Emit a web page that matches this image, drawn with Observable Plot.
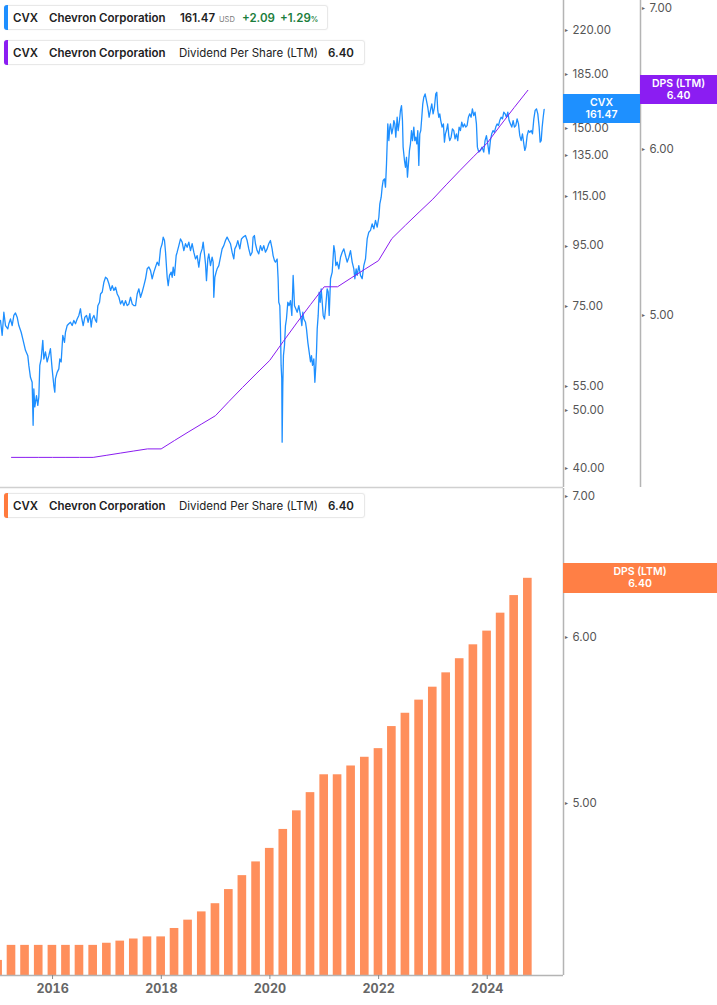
<!DOCTYPE html>
<html>
<head>
<meta charset="utf-8">
<script src="https://cdn.jsdelivr.net/npm/d3@7"></script>
<script src="https://cdn.jsdelivr.net/npm/@observablehq/plot@0.6"></script>
<style>
  html, body { margin:0; padding:0; background:#fff; }
  #wrap { position:relative; width:717px; height:1005px; overflow:hidden; font-family: Inter, "Noto Sans", sans-serif; }
  #wrap svg { position:absolute; left:0; }
  .leg { position:absolute; left:4px; height:25px; background:#fff; border:1px solid #e8e8e8; border-radius:3px;
         box-shadow:0 0 2px rgba(0,0,0,0.06); font-size:11.5px; color:#222; box-sizing:border-box; }
  .leg .acc { position:absolute; left:-1px; top:-1px; bottom:-1px; width:4px; border-radius:3px 0 0 3px; }
  .leg span { position:absolute; top:0; line-height:24px; white-space:nowrap; }
  .b { font-weight:600; }
  .tag { position:absolute; color:#fff; font-weight:600; font-size:10.5px; text-align:center; line-height:12px;
         display:flex; flex-direction:column; justify-content:center; }
</style>
</head>
<body>
<div id="wrap"></div>
<script>
// ---------- data ----------
const priceYear = [
2015.041,2015.072,2015.103,2015.133,2015.176,2015.195,2015.225,2015.256,2015.287,2015.317,2015.348,2015.379,2015.422,2015.458,2015.501,2015.544,2015.563,2015.593,2015.624,2015.642,2015.655,2015.673,2015.704,2015.728,2015.747,2015.765,2015.790,2015.820,2015.839,2015.869,2015.900,2015.931,2015.961,2015.992,
2016.023,2016.041,2016.053,2016.084,2016.115,2016.133,2016.158,2016.188,2016.219,2016.237,2016.268,2016.299,2016.329,2016.360,2016.391,2016.421,2016.452,2016.483,2016.513,2016.532,2016.562,2016.593,2016.624,2016.654,2016.685,2016.710,2016.728,2016.759,2016.789,2016.808,2016.832,2016.863,2016.881,2016.912,2016.943,2016.973,
2017.004,2017.035,2017.066,2017.096,2017.127,2017.158,2017.188,2017.219,2017.249,2017.280,2017.311,2017.341,2017.372,2017.403,2017.433,2017.464,2017.495,2017.526,2017.556,2017.587,2017.618,2017.648,2017.679,2017.710,2017.740,2017.771,2017.802,2017.832,2017.863,2017.894,2017.924,2017.955,2017.986,
2018.016,2018.035,2018.059,2018.078,2018.108,2018.127,2018.151,2018.182,2018.200,2018.219,2018.243,2018.274,2018.292,2018.323,2018.354,2018.384,2018.415,2018.446,2018.476,2018.507,2018.538,2018.568,2018.599,2018.630,2018.660,2018.691,2018.722,2018.752,2018.771,2018.795,2018.814,2018.832,2018.857,2018.875,2018.906,2018.936,2018.955,2018.967,2018.986,
2019.010,2019.028,2019.059,2019.090,2019.120,2019.151,2019.182,2019.212,2019.243,2019.274,2019.304,2019.335,2019.354,2019.384,2019.409,2019.446,2019.476,2019.507,2019.550,2019.581,2019.611,2019.642,2019.673,2019.691,2019.715,2019.734,2019.764,2019.795,2019.826,2019.857,2019.887,2019.918,2019.949,2019.979,
2020.010,2020.041,2020.059,2020.084,2020.102,2020.133,2020.151,2020.163,2020.182,2020.194,2020.206,2020.218,2020.225,2020.237,2020.249,2020.268,2020.286,2020.304,2020.329,2020.353,2020.378,2020.403,2020.427,2020.452,2020.476,2020.501,2020.531,2020.562,2020.587,2020.605,2020.623,2020.654,2020.672,2020.697,2020.721,2020.746,2020.764,2020.783,2020.807,2020.826,2020.844,2020.856,2020.869,2020.887,2020.905,2020.924,2020.942,2020.961,2020.979,
2021.003,2021.022,2021.052,2021.071,2021.089,2021.114,2021.145,2021.175,2021.194,2021.212,2021.237,2021.267,2021.298,2021.329,2021.359,2021.390,2021.421,2021.451,2021.482,2021.513,2021.543,2021.562,2021.586,2021.605,2021.635,2021.666,2021.697,2021.727,2021.758,2021.789,2021.819,2021.850,2021.881,2021.912,2021.942,2021.973,
2022.004,2022.022,2022.047,2022.065,2022.083,2022.108,2022.126,2022.145,2022.169,2022.188,2022.206,2022.218,2022.243,2022.267,2022.280,2022.298,2022.316,2022.341,2022.359,2022.384,2022.402,2022.421,2022.439,2022.451,2022.476,2022.494,2022.513,2022.531,2022.549,2022.568,2022.586,2022.605,2022.623,2022.648,2022.666,2022.684,2022.703,2022.721,2022.740,2022.758,2022.776,2022.795,2022.813,2022.832,2022.856,2022.881,2022.905,2022.930,2022.954,2022.979,
2023.003,2023.028,2023.052,2023.071,2023.089,2023.108,2023.126,2023.144,2023.169,2023.193,2023.212,2023.230,2023.249,2023.273,2023.292,2023.310,2023.335,2023.359,2023.384,2023.408,2023.433,2023.457,2023.482,2023.506,2023.531,2023.555,2023.580,2023.604,2023.629,2023.653,2023.678,2023.703,2023.727,2023.752,2023.776,2023.801,2023.819,2023.844,2023.874,2023.905,2023.936,2023.960,2023.985,
2024.009,2024.034,2024.058,2024.083,2024.108,2024.132,2024.157,2024.181,2024.206,2024.230,2024.255,2024.280,2024.304,2024.329,2024.353,2024.378,2024.402,2024.427,2024.451,2024.476,2024.500,2024.525,2024.549,2024.574,2024.598,2024.623,2024.647,2024.672,2024.690,2024.709,2024.733,2024.758,2024.782,2024.807,2024.831,2024.856,2024.880,2024.905,2024.929,2024.954,2024.972,2024.991,
2025.009,2025.028,2025.046
];
const priceClose = [
71.0,67.0,73.3,69.6,68.7,70.1,71.4,69.6,72.4,73.1,71.9,69.6,67.8,65.7,63.2,61.9,59.6,56.9,55.8,47.2,54.4,50.7,53.0,51.0,52.7,59.6,61.1,65.7,61.1,62.8,60.4,61.9,63.6,58.8,
55.1,53.7,56.6,58.0,58.8,61.1,60.4,67.0,65.2,67.8,69.6,70.1,70.5,69.6,71.0,70.1,71.4,72.4,74.3,71.9,69.6,71.9,72.4,70.5,72.9,69.2,71.4,72.4,71.0,70.5,75.2,76.2,78.7,79.3,82.4,84.0,
83.5,81.9,79.8,81.3,79.8,80.8,78.7,77.7,75.7,76.7,75.2,76.7,75.2,75.7,77.7,75.7,75.2,75.2,78.7,80.3,77.7,79.3,81.3,83.5,86.8,87.4,86.2,83.5,85.7,87.4,89.1,87.9,93.8,
95.7,98.2,96.9,92.6,84.0,81.3,84.6,85.7,84.0,87.4,84.6,91.4,92.6,95.0,97.5,96.3,93.2,95.7,94.4,96.3,93.2,95.7,92.6,90.2,91.4,87.4,92.0,93.8,96.3,92.0,88.5,82.9,90.2,92.0,87.9,90.8,89.1,77.7,84.0,
85.7,86.8,87.9,90.8,93.8,95.0,96.9,98.2,96.9,95.7,92.6,90.2,93.8,95.0,96.9,93.8,97.5,98.2,98.8,96.9,93.8,91.4,92.6,98.2,98.8,95.7,93.2,92.0,95.0,93.2,95.0,92.6,93.8,95.7,
96.9,93.8,91.4,89.6,89.1,90.2,83.5,76.2,75.2,68.7,59.6,56.6,44.2,55.1,61.9,64.4,69.6,71.4,76.2,75.2,76.7,72.4,84.6,75.2,74.3,73.3,75.2,72.4,69.6,73.3,71.4,70.5,68.7,65.2,62.8,60.4,61.9,59.6,61.1,55.8,59.6,62.8,68.7,72.4,79.3,76.2,80.3,76.2,72.4,
71.4,74.3,80.3,79.3,72.4,83.5,85.7,95.0,92.6,87.9,89.1,86.8,90.8,92.6,93.8,91.4,89.1,90.8,93.2,89.1,86.8,83.5,86.8,84.6,87.9,84.6,83.5,87.9,90.2,97.5,100.1,100.8,103.4,101.4,104.8,102.1,
106.1,111.8,114.7,119.3,122.4,123.2,119.3,130.6,152.6,143.0,150.7,152.6,146.8,150.7,154.6,152.6,144.9,156.6,148.7,154.6,160.8,163.9,154.6,139.4,132.3,128.9,134.0,124.0,130.6,137.6,141.2,148.7,143.0,150.7,143.0,144.9,141.2,148.7,129.8,146.8,148.7,156.6,165.0,169.3,171.5,167.1,162.8,156.6,160.8,165.0,
158.7,162.8,171.5,172.6,160.8,156.6,158.7,154.6,150.7,152.6,142.1,146.8,148.7,152.6,145.8,143.0,144.9,149.7,148.7,144.0,146.8,143.0,150.7,148.7,153.6,150.7,152.6,150.7,151.6,156.6,158.7,156.6,161.8,157.6,159.7,152.6,139.4,136.7,137.6,139.4,136.7,143.0,145.8,
141.2,135.8,143.0,146.8,148.7,147.7,150.7,152.6,151.6,154.6,156.6,155.6,159.7,158.7,156.6,159.7,154.6,152.6,150.7,154.6,150.7,151.6,155.6,152.6,145.8,143.0,146.8,141.2,137.6,139.4,145.8,148.7,147.7,148.7,146.8,155.6,160.8,161.8,158.7,150.7,142.1,143.0,
150.7,156.6,161.47
];
const dpsDates = [
"2014-12-31","2015-03-31","2015-06-30","2015-09-30","2015-12-31","2016-03-31","2016-06-30","2016-09-30","2016-12-31",
"2017-03-31","2017-06-30","2017-09-30","2017-12-31","2018-03-31","2018-06-30","2018-09-30","2018-12-31",
"2019-03-31","2019-06-30","2019-09-30","2019-12-31","2020-03-31","2020-06-30","2020-09-30","2020-12-31",
"2021-03-31","2021-06-30","2021-09-30","2021-12-31","2022-03-31","2022-06-30","2022-09-30","2022-12-31",
"2023-03-31","2023-06-30","2023-09-30","2023-12-31","2024-03-31","2024-06-30","2024-09-30"
];
const dpsValue = [
4.21,4.28,4.28,4.28,4.28,4.28,4.28,4.28,4.29,
4.30,4.31,4.32,4.32,4.36,4.40,4.44,4.48,
4.55,4.62,4.69,4.76,4.86,4.96,5.06,5.16,
5.16,5.21,5.26,5.31,5.44,5.52,5.60,5.68,
5.77,5.86,5.95,6.04,6.16,6.28,6.40
];
const priceTicks = [40, 50, 55, 75, 95, 115, 135, 150, 185, 220];
const dpsTicks = [5, 6, 7];
const yearTicks = [2016, 2018, 2020, 2022, 2024];
const lastPrice = 161.47, lastDps = 6.40;

// ---------- helpers ----------
function dy(t) { const y = Math.floor(t); const s = Date.UTC(y,0,1), e = Date.UTC(y+1,0,1); return new Date(s + (t - y) * (e - s)); }
const price = priceYear.map((t, i) => ({date: dy(t), v: priceClose[i]}));
const dps = dpsDates.map((d, i) => ({date: new Date(d + "T00:00:00Z"), v: dpsValue[i]}));
const xDomain = [dy(2015.0412), dy(2025.402)];
const dpsTop = dps.filter(d => d.date >= xDomain[0]);
const priceDom = [37.05, 246.7];
const dpsDom = [4.141, 7.062];
const fmt2 = d => d.toFixed(2);
const axisGray = "#b4b4b4";
const baseStyle = {fontFamily: "Inter, 'Noto Sans', sans-serif", fontSize: "11.5px", background: "transparent", overflow: "visible", color: "#555"};
const wrap = document.getElementById("wrap");

// right-side value axis: small triangle tick + label, drawn with the plot's y scale
function rightAxis(ticks, shift) {
  return [
    Plot.text(ticks, {y: d => d, x: xDomain[1], dx: shift + 3, text: d => "▸", fill: "#666", fontSize: 6, textAnchor: "middle"}),
    Plot.text(ticks, {y: d => d, x: xDomain[1], dx: shift + 9, text: fmt2, fill: "#555", textAnchor: "start", fontSize: 11.5})
  ];
}

// ---------- top: price ----------
const pTop = Plot.plot({
  width: 717, height: 488, marginLeft: 0, marginRight: 154, marginTop: 0, marginBottom: 1,
  style: baseStyle,
  x: {type: "utc", domain: xDomain, axis: null},
  y: {type: "log", domain: priceDom, axis: null},
  marks: [
    Plot.ruleY([priceDom[0]], {stroke: "#d0d0d0", strokeWidth: 1.5}),
    Plot.ruleX([xDomain[1]], {stroke: axisGray, strokeWidth: 1.5}),
    Plot.line(price, {x: "date", y: "v", stroke: "#1e8fff", strokeWidth: 1.3}),
    ...rightAxis(priceTicks, 0)
  ]
});
pTop.style.top = "0px";
wrap.appendChild(pTop);

// ---------- top: DPS line overlay ----------
const dTop = Plot.plot({
  width: 717, height: 488, marginLeft: 0, marginRight: 154, marginTop: 0, marginBottom: 1,
  style: baseStyle,
  x: {type: "utc", domain: xDomain, axis: null},
  y: {type: "log", domain: dpsDom, axis: null},
  marks: [
    Plot.ruleX([xDomain[1]], {dx: 77, stroke: axisGray, strokeWidth: 1.5}),
    Plot.line(dpsTop, {x: "date", y: "v", stroke: "#8a1cf0", strokeWidth: 1}),
    ...rightAxis(dpsTicks, 77)
  ]
});
dTop.style.top = "0px";
wrap.appendChild(dTop);

// ---------- bottom: DPS bars ----------
const day = 864e5;
const pBot = Plot.plot({
  width: 717, height: 517, marginLeft: 0, marginRight: 154, marginTop: 0, marginBottom: 30,
  style: baseStyle,
  x: {type: "utc", domain: xDomain, axis: null},
  y: {type: "log", domain: dpsDom, axis: null},
  marks: [
    Plot.rectY(dps, {x1: d => new Date(+d.date - 29 * day), x2: d => new Date(+d.date + 29 * day),
                     y1: dpsDom[0], y2: "v", fill: "#ff8f5c", clip: true}),
    Plot.ruleX([xDomain[1]], {stroke: axisGray, strokeWidth: 1.5}),
    Plot.ruleY([dpsDom[0]], {stroke: axisGray, strokeWidth: 1.5}),
    ...rightAxis(dpsTicks, 0),
    Plot.axisX({ticks: yearTicks.map(y => dy(y)), tickFormat: d => String(d.getUTCFullYear()), tickSize: 4, tickPadding: 5,
                label: null, stroke: "#888", fill: "#666", fontWeight: "bold", fontSize: 12.5})
  ]
});
pBot.style.top = "488px";
wrap.appendChild(pBot);

// ---------- value tags positioned with the plots' own scales ----------
function tag(left, width, cy, h, bg, l1, l2) {
  const t = document.createElement("div");
  t.className = "tag";
  Object.assign(t.style, {left: left + "px", width: width + "px", top: (cy - h / 2) + "px", height: h + "px", background: bg});
  t.innerHTML = `<div>${l1}</div><div>${l2}</div>`;
  wrap.appendChild(t);
}
tag(563, 77, pTop.scale("y").apply(lastPrice), 29, "#1e90ff", "CVX", lastPrice.toFixed(2));
tag(640, 77, dTop.scale("y").apply(lastDps), 29, "#8b1df2", "DPS (LTM)", lastDps.toFixed(2));
tag(563, 154, 488 + pBot.scale("y").apply(lastDps), 30, "#ff7f45", "DPS (LTM)", lastDps.toFixed(2));

// ---------- legends ----------
function legend(top, width, color, parts) {
  const b = document.createElement("div");
  b.className = "leg";
  Object.assign(b.style, {top: top + "px", width: width + "px"});
  b.innerHTML = `<div class="acc" style="background:${color}"></div>` + parts.map(p =>
    `<span class="${p.b ? "b" : ""}" style="left:${p.x}px;${p.s || ""}">${p.t}</span>`).join("");
  wrap.appendChild(b);
}
legend(5, 324, "#1e8fff", [
  {x: 8, t: "CVX", b: 1}, {x: 44, t: "Chevron Corporation", b: 1}, {x: 175, t: "161.47", b: 1},
  {x: 214, t: "USD", s: "font-size:7.5px;color:#777;top:2px;"},
  {x: 237, t: "+2.09", b: 1, s: "color:#1b7e3c;"},
  {x: 275, t: "+1.29<span style='position:static;font-size:7.5px;'>%</span>", b: 1, s: "color:#1b7e3c;"}
]);
legend(40, 361, "#8b1df2", [
  {x: 8, t: "CVX", b: 1}, {x: 44, t: "Chevron Corporation", b: 1},
  {x: 174, t: "Dividend Per Share (LTM)"}, {x: 323, t: "6.40", b: 1}
]);
legend(493, 361, "#ff7a3d", [
  {x: 8, t: "CVX", b: 1}, {x: 44, t: "Chevron Corporation", b: 1},
  {x: 174, t: "Dividend Per Share (LTM)"}, {x: 323, t: "6.40", b: 1}
]);
</script>
</body>
</html>
